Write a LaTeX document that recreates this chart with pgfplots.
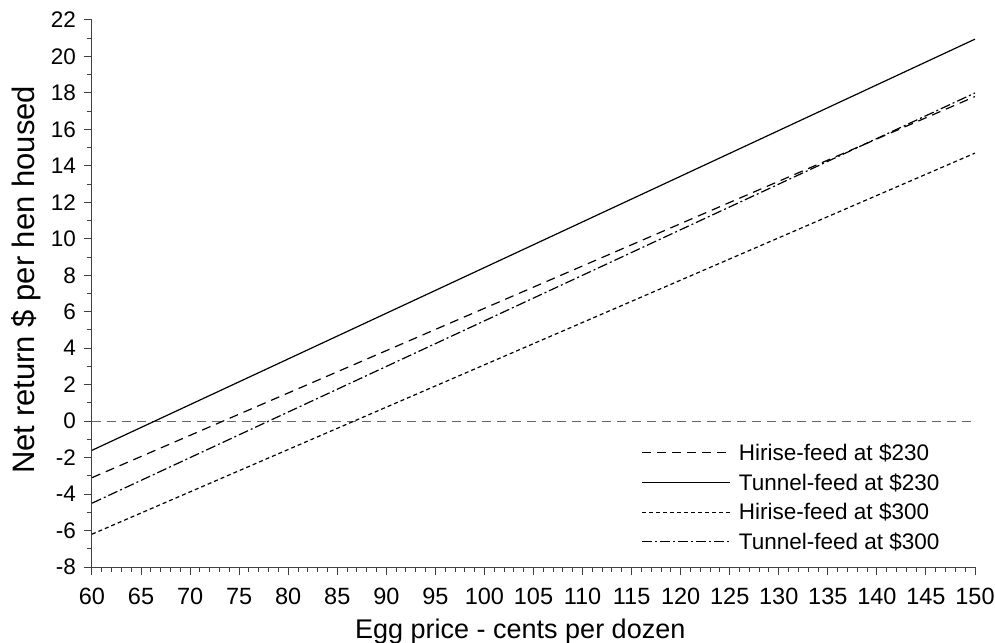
\documentclass[border=0pt]{standalone}
\usepackage{pgfplots}
\pgfplotsset{compat=1.18}
\usepackage{fontspec}
\setmainfont{Liberation Sans}
\begin{document}
\begin{tikzpicture}
\begin{axis}[
  scale only axis,
  width=883pt, height=547pt,
  xmin=60, xmax=150, ymin=-8, ymax=22,
  xtick={60,65,...,150}, ytick={-8,-6,...,22},
  minor x tick num=4, minor y tick num=1,
  axis x line*=bottom, axis y line*=left,
  axis line style={-, line width=1pt, black!75},
  tick align=outside,
  major tick length=8pt, minor tick length=5pt,
  tick style={line width=1pt, black!75},
  /pgf/number format/assume math mode=true,
  /pgf/number format/.cd, 1000 sep={}, /pgfplots/.cd,
  xticklabel style={font=\fontsize{23.5}{26}\selectfont, anchor=base, inner sep=0pt, yshift=-29pt},
  yticklabel style={font=\fontsize{22.5}{26}\selectfont, anchor=east, inner sep=0pt, xshift=-8pt},
  xlabel={Egg price - cents per dozen},
  ylabel={Net return \$ per hen housed},
  xlabel style={font=\fontsize{27}{30}\selectfont, at={(rel axis cs:0.485,0)}, anchor=base, inner sep=0pt, yshift=-71pt},
  ylabel style={font=\fontsize{31}{33}\selectfont, at={(rel axis cs:-0.0646,0.525)}, anchor=base, inner sep=0pt},
  legend style={draw=none, fill=none, at={(0.619,0.233)}, anchor=north west,
    font=\fontsize{22.5}{25}\selectfont, row sep=7.5pt},
  legend cell align=left,
  legend image code/.code={\draw[#1] (0pt,0pt) -- (88pt,0pt); \path (94pt,0pt);},
]
\addplot[black!60, dash pattern=on 9pt off 6pt, line width=1pt, forget plot] coordinates {(60,0) (150,0)};
\addplot[black, line width=1.2pt, dash pattern=on 9pt off 6pt] coordinates {(60,-3.1) (150,17.8)};
\addlegendentry{Hirise-feed at \$230}
\addplot[black, line width=1.2pt] coordinates {(60,-1.6) (150,20.95)};
\addlegendentry{Tunnel-feed at \$230}
\addplot[black, line width=1.2pt, dash pattern=on 4pt off 3pt] coordinates {(60,-6.2) (150,14.7)};
\addlegendentry{Hirise-feed at \$300}
\addplot[black, line width=1.2pt, dash pattern=on 10pt off 3pt on 2pt off 3pt] coordinates {(60,-4.5) (150,18.0)};
\addlegendentry{Tunnel-feed at \$300}
\end{axis}
\pgfresetboundingbox
\path (current axis.south west) ++(-92pt,-75pt) rectangle ++(995pt,642pt);
\end{tikzpicture}
\end{document}
